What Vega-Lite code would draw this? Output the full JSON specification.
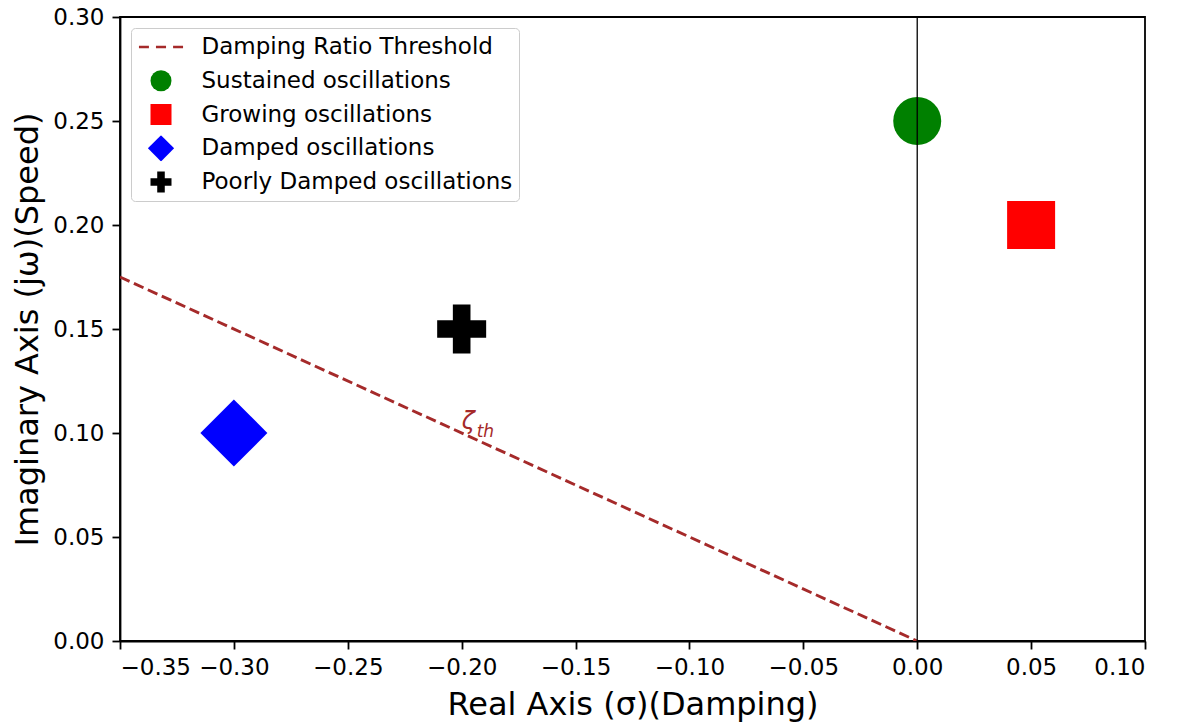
{
  "$schema": "https://vega.github.io/schema/vega-lite/v6.json",
  "width": 1025,
  "height": 624,
  "autosize": {"type": "none"},
  "padding": {"left": 120, "top": 17, "right": 32, "bottom": 81},
  "background": "white",
  "config": {
    "font": "DejaVu Sans",
    "view": {"stroke": "black", "strokeWidth": 1.8},
    "axis": {
      "grid": false,
      "domainColor": "black",
      "domainWidth": 1.8,
      "tickColor": "black",
      "tickWidth": 1.8,
      "tickSize": 8,
      "labelPadding": 7,
      "labelFont": "DejaVu Sans",
      "labelFontSize": 23,
      "labelColor": "black",
      "titleFont": "DejaVu Sans",
      "titleFontSize": 32,
      "titleFontWeight": "normal",
      "titleColor": "black"
    },
    "legend": {
      "labelFont": "DejaVu Sans",
      "labelFontSize": 23,
      "labelColor": "black",
      "labelLimit": 500
    }
  },
  "datasets": {
    "points": [
      {"sigma": 0.0, "omega": 0.25, "label": "Sustained oscillations"},
      {"sigma": 0.05, "omega": 0.2, "label": "Growing oscillations"},
      {"sigma": -0.3, "omega": 0.1, "label": "Damped oscillations"},
      {"sigma": -0.2, "omega": 0.15, "label": "Poorly Damped oscillations"}
    ],
    "threshold": [
      {"sigma": -0.35, "omega": 0.175},
      {"sigma": 0.0, "omega": 0.0}
    ],
    "axisline": [{"sigma": 0.0}],
    "annot": [{"sigma": -0.2, "omega": 0.1, "sym": "ζ", "sub": "th"}]
  },
  "layer": [
    {
      "data": {"name": "threshold"},
      "mark": {"type": "line", "color": "#a52a2a", "strokeWidth": 2.9, "strokeDash": [10.5, 4.8], "clip": true},
      "encoding": {
        "x": {
          "field": "sigma", "type": "quantitative",
          "scale": {"domain": [-0.35, 0.1], "nice": false, "zero": false},
          "axis": {"values": [-0.35, -0.3, -0.25, -0.2, -0.15, -0.1, -0.05, 0, 0.05, 0.1], "format": ".2f", "title": "Real Axis (σ)(Damping)", "titlePadding": 10}
        },
        "y": {
          "field": "omega", "type": "quantitative",
          "scale": {"domain": [0, 0.3], "nice": false},
          "axis": {"values": [0, 0.05, 0.1, 0.15, 0.2, 0.25, 0.3], "format": ".2f", "title": "Imaginary Axis (jω)(Speed)", "titlePadding": 8, "labelPadding": 8}
        }
      }
    },
    {
      "data": {"name": "points"},
      "transform": [{"filter": "datum.label === 'Sustained oscillations'"}],
      "mark": {"type": "point", "filled": true, "opacity": 1, "strokeWidth": 0, "size": 2304},
      "encoding": {
        "x": {"field": "sigma", "type": "quantitative"},
        "y": {"field": "omega", "type": "quantitative"},
        "color": {
          "field": "label", "type": "nominal",
          "scale": {
            "domain": ["Damping Ratio Threshold", "Sustained oscillations", "Growing oscillations", "Damped oscillations", "Poorly Damped oscillations"],
            "range": ["#a52a2a", "#008000", "#ff0000", "#0000ff", "#000000"]
          },
          "legend": {
            "title": null,
            "orient": "top-left",
            "offset": 11,
            "padding": 6,
            "rowPadding": 7.75,
            "clipHeight": 26,
            "symbolSize": 441,
            "symbolOffset": 12.5,
            "labelOffset": 29,
            "symbolStrokeWidth": 0,
            "strokeColor": "#cccccc",
            "fillColor": "rgba(255,255,255,0.8)",
            "cornerRadius": 4,
            "encode": {"symbols": {"update": {"size": {"value": 441}, "strokeWidth": {"value": 0}}}}
          }
        },
        "shape": {
          "field": "label", "type": "nominal",
          "scale": {
            "domain": ["Damping Ratio Threshold", "Sustained oscillations", "Growing oscillations", "Damped oscillations", "Poorly Damped oscillations"],
            "range": [
              "M-2.1,-0.13H-1.15V0.13H-2.1Z M-0.48,-0.13H0.48V0.13H-0.48Z M1.15,-0.13H2.1V0.13H1.15Z",
              "circle",
              "square",
              "M-1.25,0L0,-1.25L1.25,0L0,1.25Z",
              "M-0.36,-1H0.36V-0.36H1V0.36H0.36V1H-0.36V0.36H-1V-0.36H-0.36Z"
            ]
          },
          "legend": {"title": null}
        }
      }
    },
    {
      "data": {"name": "points"},
      "transform": [{"filter": "datum.label === 'Growing oscillations'"}],
      "mark": {"type": "point", "filled": true, "opacity": 1, "strokeWidth": 0, "size": 2304},
      "encoding": {
        "x": {"field": "sigma", "type": "quantitative"},
        "y": {"field": "omega", "type": "quantitative"},
        "color": {"field": "label", "type": "nominal"},
        "shape": {"field": "label", "type": "nominal"}
      }
    },
    {
      "data": {"name": "points"},
      "transform": [{"filter": "datum.label === 'Damped oscillations'"}],
      "mark": {"type": "point", "filled": true, "opacity": 1, "strokeWidth": 0, "size": 2873},
      "encoding": {
        "x": {"field": "sigma", "type": "quantitative"},
        "y": {"field": "omega", "type": "quantitative"},
        "color": {"field": "label", "type": "nominal"},
        "shape": {"field": "label", "type": "nominal"}
      }
    },
    {
      "data": {"name": "points"},
      "transform": [{"filter": "datum.label === 'Poorly Damped oscillations'"}],
      "mark": {"type": "point", "filled": true, "opacity": 1, "strokeWidth": 0, "size": 2400},
      "encoding": {
        "x": {"field": "sigma", "type": "quantitative"},
        "y": {"field": "omega", "type": "quantitative"},
        "color": {"field": "label", "type": "nominal"},
        "shape": {"field": "label", "type": "nominal"}
      }
    },
    {
      "data": {"name": "axisline"},
      "mark": {"type": "rule", "color": "black", "strokeWidth": 1.3},
      "encoding": {"x": {"field": "sigma", "type": "quantitative"}}
    },
    {
      "data": {"name": "annot"},
      "mark": {"type": "text", "color": "#a52a2a", "fontStyle": "italic", "fontSize": 24, "align": "left", "baseline": "alphabetic", "dy": -4},
      "encoding": {
        "x": {"field": "sigma", "type": "quantitative"},
        "y": {"field": "omega", "type": "quantitative"},
        "text": {"field": "sym"}
      }
    },
    {
      "data": {"name": "annot"},
      "mark": {"type": "text", "color": "#a52a2a", "fontStyle": "italic", "fontSize": 17, "align": "left", "baseline": "alphabetic", "dx": 15, "dy": 4},
      "encoding": {
        "x": {"field": "sigma", "type": "quantitative"},
        "y": {"field": "omega", "type": "quantitative"},
        "text": {"field": "sub"}
      }
    }
  ]
}
